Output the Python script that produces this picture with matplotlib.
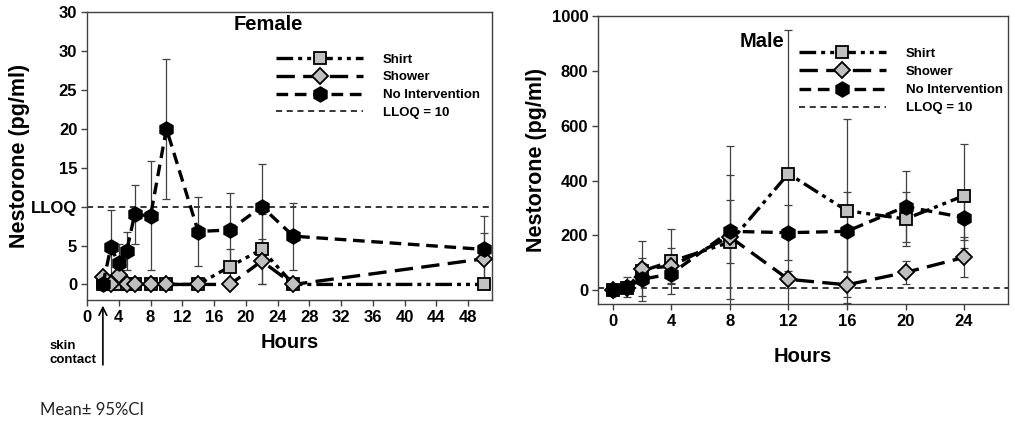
import numpy as np
import matplotlib
matplotlib.use("Agg")
from matplotlib import pyplot as plt

plt.rcParams['font.family'] = ['Liberation Sans', 'DejaVu Sans']
plt.rcParams['font.weight'] = 'bold'

# ---- Female (left panel) ----
f_hours = [2, 3, 4, 5, 6, 8, 10, 14, 18, 22, 26, 50]
f_shirt = [0, 0, 0, 0, 0, 0, 0, 0, 2.3, 4.5, 0, 0]
f_shirt_err = [0, 0, 0, 0, 0, 0, 0, 0, 2.3, 4.5, 0, 0]
f_shower = [1.0, 0, 1.2, 0, 0, 0, 0, 0, 0, 3.0, 0, 3.3]
f_shower_err = [0, 0, 0, 0, 0, 0, 0, 0, 0, 2.9, 0, 3.3]
f_noint = [0, 4.8, 2.7, 4.3, 9.0, 8.8, 20.0, 6.8, 7.0, 10.0, 6.2, 4.5]
f_noint_err = [0, 4.8, 2.5, 2.5, 3.8, 7.0, 9.0, 4.4, 4.7, 5.5, 4.3, 4.3]
f_xticks = list(range(0, 49, 4))
f_yticks = [0, 5, 10, 15, 20, 25, 30, 35]
f_ylabels = ['0', '5', 'LLOQ', '15', '20', '25', '30', '30']

# ---- Male (right panel) ----
m_hours = [0, 1, 2, 4, 8, 12, 16, 20, 24]
m_shirt = [0, 10, 70, 105, 175, 425, 290, 260, 345]
m_shirt_err = [0, 0, 110, 117, 350, 525, 335, 100, 190]
m_shower = [0, 10, 78, 88, 195, 40, 20, 65, 120]
m_shower_err = [0, 0, 40, 65, 225, 32, 45, 42, 73]
m_noint = [0, 12, 40, 60, 215, 210, 215, 305, 265]
m_noint_err = [0, 36, 60, 35, 115, 100, 143, 130, 80]
m_xticks = list(range(0, 25, 4))
m_yticks = [0, 200, 400, 600, 800, 1000]

LLOQ = 10
grey = '#c0c0c0'
ecol = '#404040'

styles = {
    'Shirt': dict(ls=(0, (5, 1.5, 1.2, 1.5, 1.2, 1.5)), marker='s', ms=8, mfc=grey),
    'Shower': dict(ls=(0, (5.5, 2.5)), marker='D', ms=8, mfc=grey),
    'No Intervention': dict(ls=(0, (3.5, 2)), marker='h', ms=10.5, mfc='black'),
}


def panel(ax, x, series, xticks, yticks, ylabels, xlim, ylim):
    handles = []
    for name, (y, err) in series.items():
        st = styles[name]
        ax.errorbar(x, y, yerr=err, fmt='none', ecolor=ecol, elinewidth=0.9,
                    capsize=3, capthick=0.9, zorder=2)
        ln, = ax.plot(x, y, color='black', lw=2.4, ls=st['ls'], marker=st['marker'],
                      ms=st['ms'], mfc=st['mfc'], mec='black', mew=1.3,
                      zorder=3, clip_on=False, label=name)
        handles.append(ln)
    ll = ax.axhline(LLOQ, color='black', lw=1.1, ls=(0, (4, 3)), zorder=1,
                    label='LLOQ = 10')
    handles.append(ll)
    ax.set_xlim(*xlim)
    ax.set_ylim(*ylim)
    ax.set_xticks(xticks)
    ax.set_yticks(yticks)
    if ylabels is not None:
        ax.set_yticklabels(ylabels)
    ax.tick_params(direction='out', length=4, width=1, color=ecol,
                   labelsize=12, pad=3)
    for s in ax.spines.values():
        s.set_color(ecol)
        s.set_linewidth(1)
    ax.set_ylabel('Nestorone (pg/ml)', fontsize=15.5, fontweight='bold')
    return handles


fig = plt.figure(figsize=(10.15, 4.23), dpi=100)
W, H = 1015, 423

axL = fig.add_axes([87 / W, 1 - 300 / H, (492 - 87) / W, (300 - 12) / H])
hL = panel(axL, f_hours,
           {'Shirt': (f_shirt, f_shirt_err),
            'Shower': (f_shower, f_shower_err),
            'No Intervention': (f_noint, f_noint_err)},
           f_xticks, f_yticks, f_ylabels, (0, 51), (-2, 35))
axL.yaxis.set_label_coords(-0.14, 0.5)
axL.set_xlabel('Hours', fontsize=14.5, fontweight='bold', labelpad=6)
axL.text(0.362, 0.958, 'Female', transform=axL.transAxes, fontsize=14.5,
         fontweight='bold', va='center', ha='left')
axL.legend(handles=hL, loc='upper left', bbox_to_anchor=(0.467, 0.856),
           frameon=False, fontsize=9.5, handlelength=6.6, handletextpad=1.5,
           labelspacing=0.42, numpoints=1, borderaxespad=0, borderpad=0)

axR = fig.add_axes([598 / W, 1 - 304 / H, (1008 - 598) / W, (304 - 16) / H])
hR = panel(axR, m_hours,
           {'Shirt': (m_shirt, m_shirt_err),
            'Shower': (m_shower, m_shower_err),
            'No Intervention': (m_noint, m_noint_err)},
           m_xticks, m_yticks, None, (-1, 27), (-50, 1000))
axR.yaxis.set_label_coords(-0.125, 0.5)
axR.set_xlabel('Hours', fontsize=14.5, fontweight='bold', labelpad=13)
axR.text(0.345, 0.91, 'Male', transform=axR.transAxes, fontsize=14.5,
         fontweight='bold', va='center', ha='left')
axR.legend(handles=hR, loc='upper left', bbox_to_anchor=(0.49, 0.89),
           frameon=False, fontsize=9.5, handlelength=6.6, handletextpad=1.5,
           labelspacing=0.45, numpoints=1, borderaxespad=0, borderpad=0)

# skin contact arrow
axL.annotate('', xy=(2, -0.01), xycoords=('data', 'axes fraction'),
             xytext=(2, -0.235), textcoords=('data', 'axes fraction'),
             arrowprops=dict(arrowstyle='->', color='black', lw=1.2,
                             mutation_scale=14),
             annotation_clip=False)
fig.text(50 / W, 1 - 353 / H, 'skin\ncontact', fontsize=9.5, fontweight='bold',
         ha='left', va='center', linespacing=1.25)

fig.text(40 / W, 1 - 410 / H, 'Mean\u00b1 95%CI', fontsize=12,
         fontweight='normal', family=['Lato', 'DejaVu Sans'], ha='left',
         va='center', color='#222222')

fig.savefig('out.png', dpi=100)
